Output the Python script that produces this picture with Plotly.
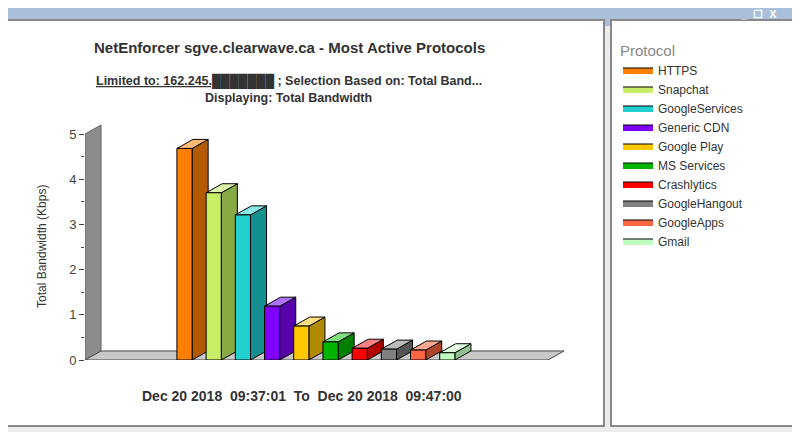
import plotly.graph_objects as go

protocols = ["HTTPS", "Snapchat", "GoogleServices", "Generic CDN", "Google Play",
             "MS Services", "Crashlytics", "GoogleHangout", "GoogleApps", "Gmail"]
bandwidth = [4.68, 3.70, 3.21, 1.19, 0.75, 0.40, 0.26, 0.24, 0.22, 0.16]
front_colors = ["#ff8000", "#c8ee66", "#22d0d0", "#8000ff", "#ffc800",
                "#00b400", "#ff0000", "#808080", "#ff6644", "#c0ffc0"]
side_colors = ["#b35900", "#88aa44", "#159090", "#5500aa", "#b08a00",
               "#008000", "#b00000", "#555555", "#b04428", "#90c090"]
top_colors = ["#ffbb77", "#ddf5aa", "#88e8e8", "#b070ff", "#ffe080",
              "#80e080", "#ff8080", "#bbbbbb", "#ffaa90", "#e0ffe0"]
y_ticks = [0, 1, 2, 3, 4, 5]

O = 8
W, H = 800 - O, 432 - O
L, R, T, B = 85, 585, 120, 360
XMIN = (85 - 184.5) / 29.2
XMAX = (585 - 184.5) / 29.2
YMAX = (360 - 120) / 45.2
HW = 0.26
DX, DY = 0.55, 0.2
FLOOR_END = (548 - 184.5) / 29.2

def px(x): return (x - L) / (R - L)
def py(y): return (B - y) / (B - T)

fig = go.Figure()
fig.add_trace(go.Scatter(x=[XMIN, XMIN, XMIN + DX, XMIN + DX, XMIN], y=[0, 5, 5 + DY, DY, 0],
                         fill="toself", fillcolor="#8c8c8c", line=dict(color="#666", width=1),
                         mode="lines", showlegend=False, hoverinfo="skip"))
fig.add_trace(go.Scatter(x=[XMIN, FLOOR_END, FLOOR_END + DX, XMIN + DX, XMIN], y=[0, 0, DY, DY, 0],
                         fill="toself", fillcolor="#c8c8c8", line=dict(color="#444", width=1),
                         mode="lines", showlegend=False, hoverinfo="skip"))

for i, (name, v) in enumerate(zip(protocols, bandwidth)):
    x0, x1 = i - HW, i + HW
    fig.add_trace(go.Scatter(x=[x1, x1 + DX, x1 + DX, x1, x1], y=[0, DY, v + DY, v, 0],
                             fill="toself", fillcolor=side_colors[i], line=dict(color="black", width=1),
                             mode="lines", showlegend=False, hoverinfo="skip"))
    fig.add_trace(go.Scatter(x=[x0, x1, x1 + DX, x0 + DX, x0], y=[v, v, v + DY, v + DY, v],
                             fill="toself", fillcolor=top_colors[i], line=dict(color="black", width=1),
                             mode="lines", showlegend=False, hoverinfo="skip"))
    fig.add_trace(go.Scatter(x=[x0, x1, x1, x0, x0], y=[0, 0, v, v, 0],
                             fill="toself", fillcolor=front_colors[i], line=dict(color="black", width=1),
                             mode="lines", name=name, showlegend=True))

shapes = [
    dict(type="rect", xref="paper", yref="paper", x0=px(-10), x1=px(810), y0=py(-10), y1=py(26),
         fillcolor="#a9bfdc", line=dict(width=0), layer="below"),
    dict(type="rect", xref="paper", yref="paper", x0=px(7), x1=px(604), y0=py(20), y1=py(426),
         fillcolor="white", line=dict(color="#888", width=2), layer="below"),
    dict(type="rect", xref="paper", yref="paper", x0=px(611), x1=px(793), y0=py(20), y1=py(426),
         fillcolor="white", line=dict(color="#888", width=2), layer="below"),
]
ann = [
    dict(text="<b>NetEnforcer sgve.clearwave.ca - Most Active Protocols</b>", x=px(289), y=py(47),
         font=dict(size=15, color="#333")),
    dict(text="<b><u>Limited to: 162.245.\u2588\u2588\u2588\u2588\u2588\u2588\u2588</u> ; Selection Based on: Total Band...</b>",
         x=px(289), y=py(81), font=dict(size=12.5, color="#333")),
    dict(text="<b>Displaying: Total Bandwidth</b>", x=px(288), y=py(98), font=dict(size=12.5, color="#333")),
    dict(text="Total Bandwidth (Kbps)", x=px(42), y=py(247), textangle=-90, font=dict(size=12, color="#333")),
    dict(text="<b>Dec 20 2018  09:37:01  To  Dec 20 2018  09:47:00</b>", x=px(302), y=py(396),
         font=dict(size=14, color="#333")),
    dict(text="<b>_  \u2610  X</b>", x=px(758), y=py(14), font=dict(size=11, color="white")),
]
for a in ann:
    a.update(xref="paper", yref="paper", showarrow=False, xanchor="center", yanchor="middle")

fig.update_layout(
    width=W, height=H, margin=dict(l=L - O, r=800 - R, t=T - O, b=432 - B, autoexpand=False),
    paper_bgcolor="#ececec", plot_bgcolor="rgba(0,0,0,0)",
    font=dict(family="Liberation Sans, Arial", color="#333"),
    xaxis=dict(range=[XMIN, XMAX], visible=False, fixedrange=True),
    yaxis=dict(range=[0, YMAX], tickvals=y_ticks, showgrid=False, zeroline=False, ticks="outside",
               ticklen=5, tickcolor="#444", tickfont=dict(size=13, color="#444"),
               minor=dict(dtick=0.5, ticks="outside", ticklen=3, tickcolor="#444")),
    legend=dict(x=px(618), y=py(36), xanchor="left", yanchor="top", bgcolor="rgba(0,0,0,0)",
                title=dict(text="Protocol", font=dict(size=15, color="#888")),
                font=dict(size=12, color="#333"), tracegroupgap=0, itemwidth=30, maxheight=400),
    shapes=shapes, annotations=ann,
)
fig.write_html("out.html")
